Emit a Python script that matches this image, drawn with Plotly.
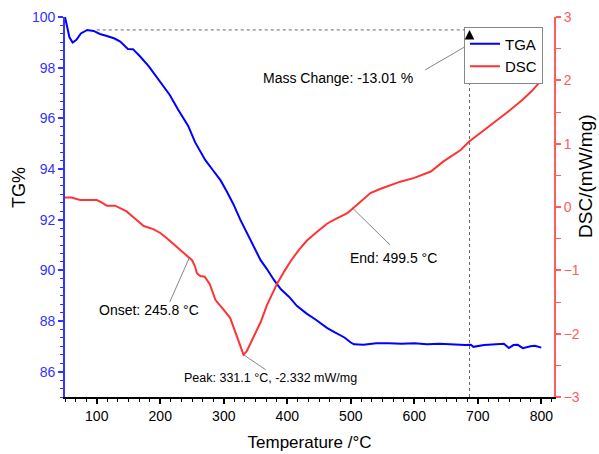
import plotly.graph_objects as go

# ---------------- data ----------------
tga_temp = [50, 53, 57, 62, 68, 75, 85, 95, 105, 116, 128, 137, 145, 149, 157, 168, 182, 195,
            205, 215, 228, 244, 255, 263, 271, 283, 295, 305, 315, 326, 337, 350, 358, 368,
            379, 390, 403, 415, 430, 445, 463, 475, 490, 500, 505, 520, 540, 560, 580, 600,
            620, 640, 660, 680, 689, 693, 710, 730, 741, 749, 756, 763, 771, 783, 790, 800]
tga_val = [100.0, 99.6, 99.2, 98.99, 99.1, 99.35, 99.49, 99.45, 99.33, 99.25, 99.15, 99.03,
           98.85, 98.74, 98.73, 98.45, 98.05, 97.6, 97.25, 96.92, 96.35, 95.7, 95.05, 94.7,
           94.35, 93.95, 93.55, 93.1, 92.62, 92.0, 91.45, 90.8, 90.4, 90.05, 89.62, 89.25,
           88.95, 88.6, 88.3, 88.05, 87.72, 87.55, 87.35, 87.15, 87.08, 87.06, 87.12, 87.12,
           87.1, 87.12, 87.08, 87.1, 87.06, 87.05, 87.06, 86.98, 87.05, 87.08, 87.1, 86.93,
           87.05, 87.06, 86.93, 87.0, 87.02, 86.95]

dsc_temp = [50, 60, 74, 90, 100, 106, 116, 129, 138, 147, 160, 174, 189, 200, 210, 226, 242,
            250, 254, 258, 263, 270, 278, 287, 298, 310, 321, 327, 331, 336, 347, 358, 368,
            375, 384, 395, 405, 418, 431, 446, 463, 478, 494, 500, 507, 520, 531, 545, 557,
            578, 600, 626, 646, 673, 686, 705, 725, 747, 770, 785, 800]
dsc_val = [0.15, 0.15, 0.11, 0.11, 0.11, 0.08, 0.02, 0.02, -0.02, -0.07, -0.18, -0.30, -0.35,
           -0.41, -0.49, -0.63, -0.77, -0.84, -0.92, -1.05, -1.09, -1.10, -1.22, -1.47, -1.60,
           -1.75, -2.05, -2.22, -2.332, -2.28, -2.05, -1.82, -1.55, -1.40, -1.21, -1.02, -0.86,
           -0.68, -0.53, -0.40, -0.26, -0.18, -0.10, -0.05, 0.01, 0.13, 0.22, 0.28, 0.32, 0.40,
           0.46, 0.56, 0.72, 0.90, 1.03, 1.17, 1.33, 1.50, 1.69, 1.83, 2.0]

x_range = [50, 820]
tg_range = [85, 100]
dsc_range = [-3, 3]

# annotation values
mass_start_T, mass_end_T, mass_top = 100, 687, 99.49
onset_T, onset_dsc = 245.8, -0.80
peak_T, peak_dsc = 331.1, -2.332
end_T, end_dsc = 503, -0.02

FONT = "Liberation Sans, Arial, sans-serif"
BLUE = "#0000ff"
BLUE_AX = "#3333ff"
RED = "#ff3333"
RED_AX = "#ff5c5c"
GRAY = "#666666"

fig = go.Figure()
fig.add_trace(go.Scatter(x=tga_temp, y=tga_val, name="TGA", mode="lines",
                         line=dict(color=BLUE, width=2), xaxis="x", yaxis="y"))
fig.add_trace(go.Scatter(x=dsc_temp, y=dsc_val, name="DSC", mode="lines",
                         line=dict(color=RED, width=2), xaxis="x", yaxis="y2"))

shapes = [
    # mass change dotted lines
    dict(type="line", xref="x", yref="y", x0=mass_start_T, x1=mass_end_T, y0=mass_top, y1=mass_top,
         line=dict(color=GRAY, width=1, dash="dot")),
    dict(type="line", xref="x", yref="y", x0=mass_end_T, x1=mass_end_T, y0=tg_range[0], y1=mass_top - 0.3,
         line=dict(color=GRAY, width=1, dash="dot")),
    # leader lines
    dict(type="line", xref="x", yref="y", x0=617, y0=97.91, x1=mass_end_T, y1=98.93,
         line=dict(color=GRAY, width=0.8)),
    dict(type="line", xref="x", yref="y2", x0=onset_T, y0=onset_dsc, x1=215, y1=-1.50,
         line=dict(color=GRAY, width=0.8)),
    dict(type="line", xref="x", yref="y2", x0=peak_T, y0=peak_dsc, x1=366, y1=-2.57,
         line=dict(color=GRAY, width=0.8)),
    dict(type="line", xref="x", yref="y2", x0=end_T, y0=end_dsc, x1=562, y1=-0.60,
         line=dict(color=GRAY, width=0.8)),
]

annotations = [
    # arrow head
    dict(x=mass_end_T, y=mass_top, xref="x", yref="y", ax=mass_end_T, ay=mass_top - 0.35,
         axref="x", ayref="y", showarrow=True, arrowhead=2, arrowsize=1.6, arrowwidth=1.2,
         arrowcolor="black", text="", standoff=0),
    dict(x=480, y=97.59, xref="x", yref="y", text="Mass Change: -13.01 %", showarrow=False,
         font=dict(size=14, color="black", family=FONT)),
    dict(x=182, y=-1.63, xref="x", yref="y2", text="Onset: 245.8 °C", showarrow=False,
         font=dict(size=14, color="black", family=FONT)),
    dict(x=373, y=-2.70, xref="x", yref="y2", text="Peak: 331.1 °C, -2.332 mW/mg", showarrow=False,
         font=dict(size=12.5, color="black", family=FONT)),
    dict(x=568, y=-0.80, xref="x", yref="y2", text="End: 499.5 °C", showarrow=False,
         font=dict(size=14, color="black", family=FONT)),
    # axis titles
    dict(x=-0.094, y=0.55, xref="paper", yref="paper", text="TG%", textangle=-90, showarrow=False,
         xanchor="center", yanchor="middle",
         font=dict(size=18, color="black", family=FONT)),
    dict(x=1.064, y=0.58, xref="paper", yref="paper", text="DSC/(mW/mg)", textangle=-90,
         xanchor="center", yanchor="middle",
         showarrow=False, font=dict(size=19, color="black", family=FONT)),
]

fig.update_layout(
    width=599, height=454,
    margin=dict(l=65, r=45, t=17, b=57, autoexpand=False),
    paper_bgcolor="white", plot_bgcolor="white",
    font=dict(family=FONT, size=14, color="black"),
    showlegend=True,
    legend=dict(x=0.9775, y=0.975, xanchor="right", yanchor="top", bgcolor="white",
                bordercolor="#888888", borderwidth=1, font=dict(size=15, family=FONT),
                tracegroupgap=0, itemwidth=30),
    xaxis=dict(range=x_range, tick0=0, dtick=100, ticks="outside", ticklen=5, tickwidth=1.5,
               tickcolor="black", showline=True, linecolor="black", linewidth=1.5,
               showgrid=False, zeroline=False, tickfont=dict(size=14, color="black"),
               automargin=False,
               title=dict(text="Temperature /°C", font=dict(size=17), standoff=14),
               minor=dict(tick0=0, dtick=50 / 3, ticks="outside", ticklen=3, tickwidth=1.2,
                          tickcolor="black", showgrid=False)),
    xaxis2=dict(range=x_range, overlaying="x", side="top", anchor="y", tick0=0, dtick=100,
                ticks="inside", ticklen=5, tickwidth=1.5, tickcolor="black", showline=True,
                linecolor="black", linewidth=1.5, showgrid=False, zeroline=False,
                showticklabels=False, automargin=False,
                minor=dict(tick0=0, dtick=50 / 3, ticks="inside", ticklen=3, tickwidth=1.2,
                           tickcolor="black", showgrid=False)),
    yaxis=dict(range=tg_range, tick0=0, dtick=2, ticks="outside", ticklen=5, tickwidth=1.5,
               tickcolor=BLUE_AX, showline=True, linecolor=BLUE_AX, linewidth=1.8,
               showgrid=False, zeroline=False, tickfont=dict(size=14, color=BLUE_AX),
               automargin=False,
               minor=dict(tick0=0, dtick=1 / 3, ticks="outside", ticklen=3, tickwidth=1.2,
                          tickcolor=BLUE_AX, showgrid=False)),
    yaxis2=dict(range=dsc_range, overlaying="y", side="right", anchor="x", tick0=0, dtick=1,
                ticks="outside", ticklen=5, tickwidth=1.5, tickcolor=RED_AX, showline=True,
                linecolor=RED_AX, linewidth=1.8, showgrid=False, zeroline=False,
                tickfont=dict(size=14, color=RED_AX), automargin=False,
                minor=dict(tick0=0, dtick=0.5, ticks="outside", ticklen=5, tickwidth=1.2,
                           tickcolor=RED_AX, showgrid=False)),
    shapes=shapes,
    annotations=annotations,
)

fig.write_html("out.html")
